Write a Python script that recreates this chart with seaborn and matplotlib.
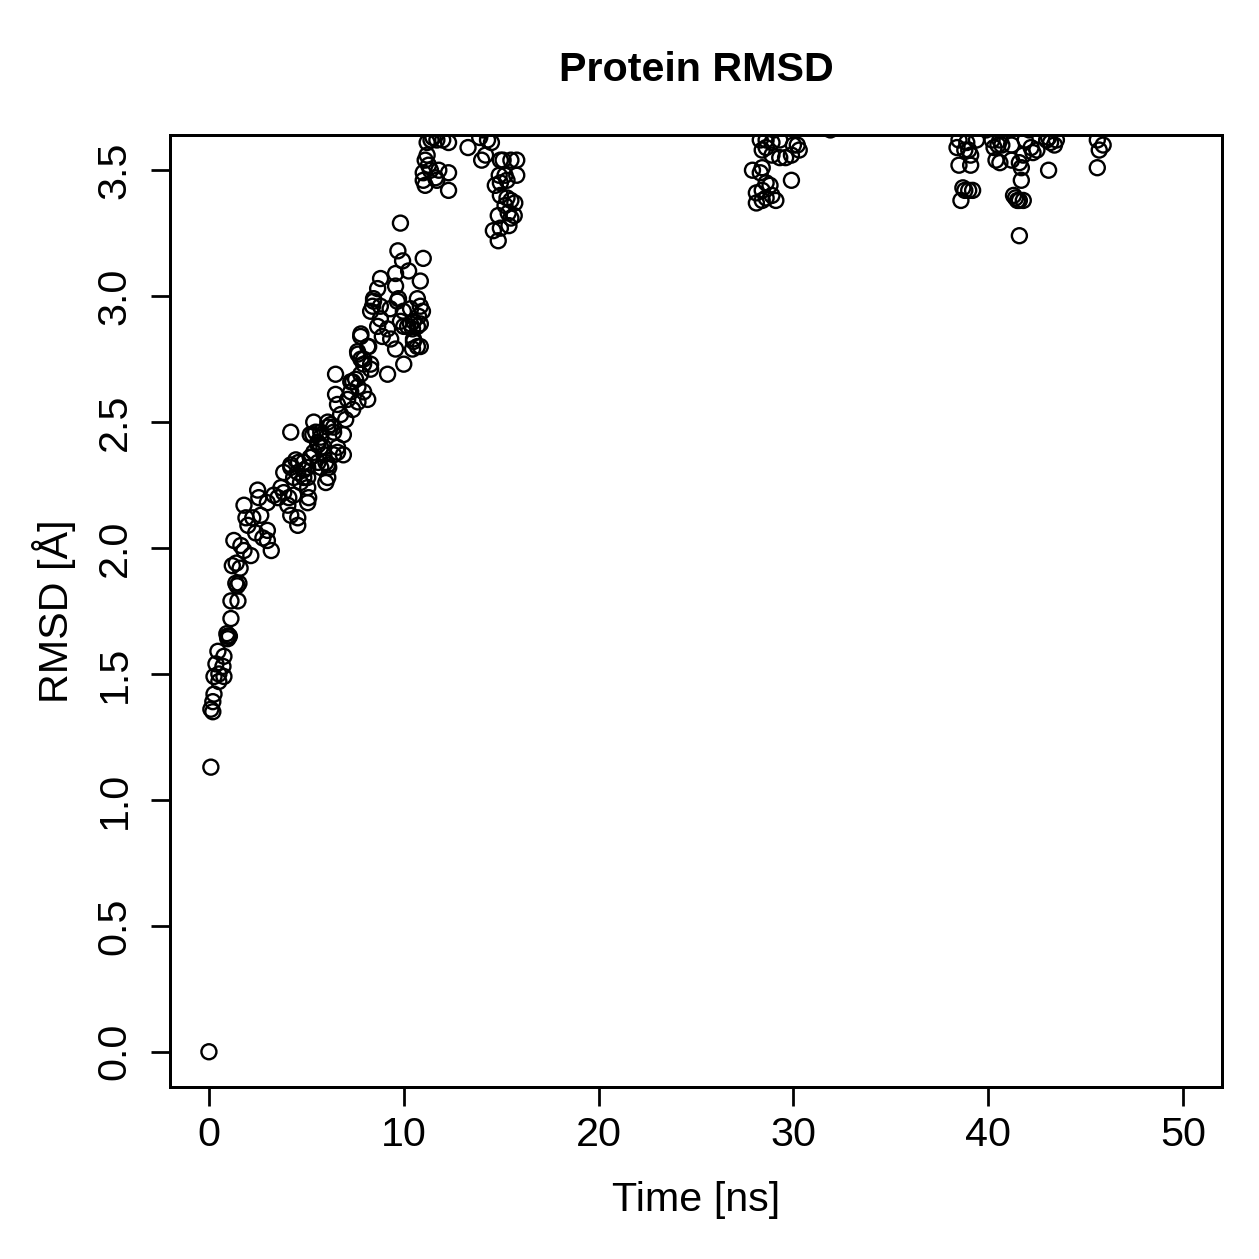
import numpy as np
import pandas as pd
import seaborn as sns
import matplotlib.pyplot as plt

sns.set_theme(style="white")
plt.rcParams['font.family'] = ['Liberation Sans', 'DejaVu Sans']

# --- data (time in ns, RMSD in Angstrom) ---
# equilibration rise, 0 - 11 ns
t_rise = [0.0, 0.1, 0.1, 0.2, 0.2, 0.26, 0.26, 0.36, 0.46, 0.51, 0.51, 0.72, 0.77, 0.77,
          0.95, 1.0, 0.97, 1.05, 0.92, 1.13, 1.13, 1.49, 1.38, 1.54, 1.45, 1.2, 1.4, 1.6,
          1.28, 1.64, 1.8, 2.15, 3.2, 1.9, 2.0, 2.25, 2.66, 3.0, 2.4, 2.77, 3.0,
          1.8, 2.5, 2.56, 3.0, 3.33, 3.7, 3.54, 3.84, 4.1, 4.35, 4.05, 4.56, 4.56, 4.2,
          3.84, 4.2, 4.46, 4.87, 5.07, 4.7, 5.07, 5.12, 5.07,
          4.87, 5.2, 5.38, 5.2, 5.48, 5.74, 6.1, 6.25, 5.38, 5.58, 5.74, 6.0, 6.15, 6.0, 5.74, 6.4, 6.6,
          4.2, 6.5, 7.8,
          8.2, 7.65, 7.8, 7.94, 8.3, 7.53, 7.38, 7.65, 7.28, 7.94, 8.15, 7.65, 7.12, 6.5, 6.6, 6.76, 7.38, 7.02,
          9.17, 10.0,
          6.1, 6.4, 6.9, 5.74, 5.33, 5.6, 5.9, 6.6, 6.9, 6.4, 5.9, 6.1, 5.6, 5.23, 5.07, 4.6, 4.56, 4.2, 4.35, 4.87, 6.1,
          8.45, 8.8, 9.3, 9.67, 9.98, 10.35, 9.83, 10.2, 10.5, 8.8, 9.17, 9.33, 9.58, 8.9, 8.66, 10.5, 10.7,
          9.83, 9.7, 9.94, 10.25, 11.0, 10.85, 9.58, 9.58, 9.73, 8.81, 8.66, 8.45, 8.4, 8.3,
          7.79, 8.15, 7.63, 7.94, 8.3, 7.79, 7.28,
          10.0, 10.35, 10.45, 10.7, 10.85, 10.7, 10.85, 10.96, 10.76, 10.5, 10.85, 10.45]
r_rise = [0.0, 1.13, 1.36, 1.35, 1.39, 1.42, 1.49, 1.54, 1.59, 1.50, 1.47, 1.53, 1.57, 1.49,
          1.65, 1.65, 1.64, 1.65, 1.66, 1.72, 1.79, 1.79, 1.86, 1.86, 1.85, 1.93, 1.94, 1.92,
          2.03, 2.01, 1.99, 1.97, 1.99, 2.12, 2.09, 2.12, 2.13, 2.07, 2.06, 2.04, 2.03,
          2.17, 2.23, 2.20, 2.18, 2.21, 2.24, 2.20, 2.22, 2.20, 2.21, 2.17, 2.12, 2.09, 2.13,
          2.30, 2.32, 2.35, 2.31, 2.28, 2.26, 2.24, 2.20, 2.18,
          2.34, 2.36, 2.38, 2.45, 2.46, 2.46, 2.48, 2.49, 2.50, 2.42, 2.40, 2.34, 2.32, 2.26, 2.32, 2.46, 2.38,
          2.46, 2.69, 2.85,
          2.80, 2.77, 2.75, 2.73, 2.71, 2.67, 2.66, 2.64, 2.62, 2.62, 2.59, 2.58, 2.59, 2.61, 2.57, 2.53, 2.55, 2.51,
          2.69, 2.73,
          2.50, 2.48, 2.45, 2.44, 2.45, 2.41, 2.40, 2.40, 2.37, 2.37, 2.37, 2.33, 2.34, 2.36, 2.32, 2.34, 2.30, 2.33, 2.28, 2.28, 2.28,
          2.98, 2.96, 2.95, 2.98, 2.94, 2.95, 2.90, 2.88, 2.90, 2.91, 2.87, 2.83, 2.79, 2.84, 2.88, 2.83, 2.80,
          3.29, 3.18, 3.14, 3.10, 3.15, 3.06, 3.09, 3.04, 2.99, 3.07, 3.03, 2.99, 2.96, 2.94,
          2.84, 2.80, 2.78, 2.75, 2.73, 2.69, 2.66,
          2.88, 2.89, 2.87, 2.88, 2.89, 2.99, 2.96, 2.94, 2.92, 2.82, 2.80, 2.79]

# plateau, 11 - 16 ns
t_mid = [11.4, 11.7, 12.0, 12.3, 11.2, 11.5, 11.2, 11.1, 11.27, 11.0, 11.37, 11.8, 11.63, 12.3,
         11.0, 11.1, 11.7, 12.3, 13.3, 13.9, 14.3, 14.5, 14.0, 14.2,
         14.96, 15.1, 15.5, 15.8, 14.9, 15.2, 15.8, 14.7, 14.96, 15.3,
         14.96, 15.3, 15.5, 15.7, 15.2, 14.85, 15.36, 15.67, 15.5, 14.96, 15.4, 14.6, 14.85,
         12.9, 14.1]
r_mid = [3.62, 3.62, 3.62, 3.61, 3.61, 3.63, 3.56, 3.54, 3.52, 3.49, 3.50, 3.50, 3.47, 3.49,
         3.46, 3.44, 3.46, 3.42, 3.59, 3.63, 3.62, 3.61, 3.54, 3.56,
         3.54, 3.54, 3.54, 3.54, 3.48, 3.48, 3.48, 3.44, 3.45, 3.46,
         3.40, 3.39, 3.38, 3.37, 3.36, 3.32, 3.33, 3.32, 3.31, 3.27, 3.28, 3.26, 3.22,
         3.67, 3.66]

# late frames, 28 - 46 ns
t_late = [28.3, 28.6, 28.9, 29.3, 30.0, 30.2, 30.3, 29.9, 29.6, 29.3, 28.9, 28.6, 28.4,
          27.9, 28.3, 28.4, 28.6, 28.8, 28.4, 28.1, 28.9, 28.6, 28.4, 29.9, 28.1, 29.1, 31.9, 29.0,
          38.5, 38.9, 39.4, 38.4, 38.8, 39.0, 39.1, 38.5, 39.1,
          38.7, 39.0, 39.2, 38.8, 38.6,
          40.2, 40.6, 40.5, 40.7, 40.3,
          41.2, 41.9, 42.2, 42.5, 42.3, 41.8, 41.2, 41.6, 40.4, 40.6, 41.7, 41.7,
          41.3, 41.4, 41.6, 41.5, 41.8, 41.6,
          43.0, 43.2, 43.4, 43.1, 43.5, 43.1,
          45.6, 45.9, 45.7, 45.6, 39.9, 42.1]
r_late = [3.62, 3.62, 3.61, 3.62, 3.60, 3.60, 3.58, 3.56, 3.55, 3.55, 3.56, 3.59, 3.58,
          3.50, 3.49, 3.51, 3.45, 3.44, 3.42, 3.41, 3.40, 3.39, 3.38, 3.46, 3.37, 3.38, 3.66, 3.66,
          3.62, 3.61, 3.62, 3.59, 3.58, 3.58, 3.56, 3.52, 3.52,
          3.43, 3.42, 3.42, 3.42, 3.38,
          3.62, 3.62, 3.60, 3.60, 3.59,
          3.60, 3.62, 3.59, 3.58, 3.57, 3.56, 3.54, 3.53, 3.54, 3.53, 3.51, 3.46,
          3.40, 3.39, 3.38, 3.38, 3.38, 3.24,
          3.62, 3.61, 3.60, 3.63, 3.62, 3.50,
          3.62, 3.60, 3.58, 3.51, 3.66, 3.66]

df = pd.DataFrame({'time': t_rise + t_mid + t_late,
                   'rmsd': r_rise + r_mid + r_late})

fig = plt.figure(figsize=(1259 / 180, 1259 / 180), dpi=180)
ax = fig.add_axes([0.135, 0.1366, 0.8356, 0.7562])

sns.scatterplot(data=df, x='time', y='rmsd', ax=ax, marker='o', s=36,
                linewidth=0.95, legend=False)
coll = ax.collections[0]
coll.set_facecolor('none')
coll.set_edgecolor('black')

ax.set_xlim(-2, 52)
ax.set_ylim(-0.14, 3.64)
ax.set_xticks(np.arange(0, 51, 10))
ax.set_yticks(np.arange(0, 3.51, 0.5))
ax.set_yticklabels([f'{v:.1f}' for v in np.arange(0, 3.51, 0.5)], rotation=90, va='center')

ax.tick_params(axis='both', direction='out', length=7.5, width=1.1, color='black',
               labelsize=16.5, labelcolor='black', bottom=True, left=True)
ax.tick_params(axis='x', pad=4)
ax.tick_params(axis='y', pad=7)
for sp in ax.spines.values():
    sp.set_color('black')
    sp.set_linewidth(1.2)

# axis labels and title placed like R's base graphics margins
ax.set_xlabel('Time [ns]', fontsize=16.5, color='black', va='center')
ax.xaxis.set_label_coords(0.5, -(1200 - 1087) / 952)
ax.set_ylabel('RMSD [Å]', fontsize=16.5, color='black', va='center')
ax.yaxis.set_label_coords((54 - 170) / 1052, 0.5)
fig.text(0.5 * (0.135 + 0.9706), 1 - 70 / 1259, 'Protein RMSD', fontsize=16.5,
         fontweight='bold', ha='center', va='center', color='black')
ax.grid(False)

fig.savefig('out.png', dpi=180, facecolor='white')
